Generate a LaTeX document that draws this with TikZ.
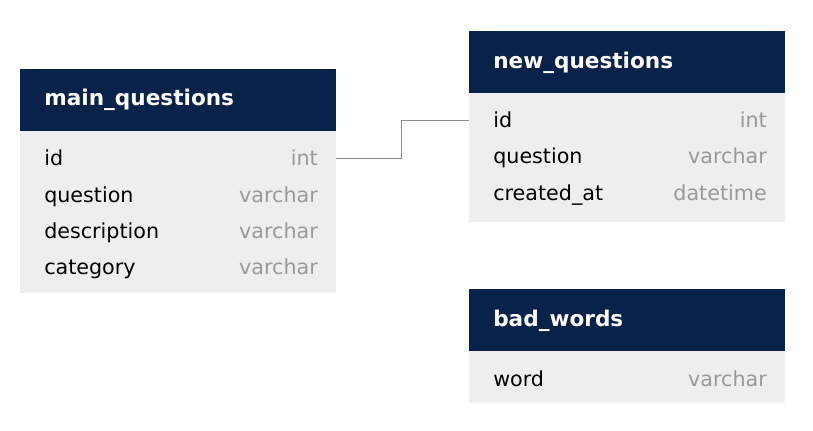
\documentclass[tikz,border=0pt]{standalone}
\usepackage{fontspec}
\setmainfont{DejaVu Sans}
\definecolor{headblue}{HTML}{08224A}
\definecolor{rowgray}{HTML}{EEEEEE}
\definecolor{typegray}{HTML}{999999}
\definecolor{linkgray}{HTML}{8C8C8C}
\tikzset{
  tabletitle/.style={anchor=base west, text=white, font=\fontsize{16.2}{18}\selectfont\bfseries, inner sep=0pt},
  fieldname/.style={anchor=base west, text=black, font=\fontsize{15.5}{18}\selectfont, inner sep=0pt},
  fieldtype/.style={anchor=base east, text=typegray, font=\fontsize{15.5}{18}\selectfont, inner sep=0pt},
  link/.style={draw=linkgray, line width=0.75pt}
}
\begin{document}
\begin{tikzpicture}[x=0.75pt, y=-0.75pt]
		\useasboundingbox (0,0) rectangle (813,431);

		\fill[headblue] (20,69) rectangle (336,131);
		\fill[rowgray] (20,131) rectangle (336,293);
		\node[tabletitle] (mq) at (44,106) {main\_questions};
		\node[fieldname] (mq-id) at (44,166) {id};
		\node[fieldtype] (mq-id-t) at (318,166) {int};
		\node[fieldname] (mq-q) at (44,202) {question};
		\node[fieldtype] (mq-q-t) at (318,202) {varchar};
		\node[fieldname] (mq-d) at (44,238) {description};
		\node[fieldtype] (mq-d-t) at (318,238) {varchar};
		\node[fieldname] (mq-c) at (44,274) {category};
		\node[fieldtype] (mq-c-t) at (318,274) {varchar};

		\fill[headblue] (469,31) rectangle (785,93);
		\fill[rowgray] (469,93) rectangle (785,222);
		\node[tabletitle] (nq) at (493,69) {new\_questions};
		\node[fieldname] (nq-id) at (493,128) {id};
		\node[fieldtype] (nq-id-t) at (767,128) {int};
		\node[fieldname] (nq-q) at (493,164) {question};
		\node[fieldtype] (nq-q-t) at (767,164) {varchar};
		\node[fieldname] (nq-c) at (493,200) {created\_at};
		\node[fieldtype] (nq-c-t) at (767,200) {datetime};

		\fill[headblue] (469,289) rectangle (785,351);
		\fill[rowgray] (469,351) rectangle (785,403);
		\node[tabletitle] (bw) at (493,326) {bad\_words};
		\node[fieldname] (bw-w) at (493,386) {word};
		\node[fieldtype] (bw-w-t) at (767,386) {varchar};

		\coordinate (mq-out) at (336,159);
		\coordinate (nq-in) at (469,121);
		\draw[link] (mq-out) -- (401,159) |- (nq-in);
	\end{tikzpicture}
\end{document}
